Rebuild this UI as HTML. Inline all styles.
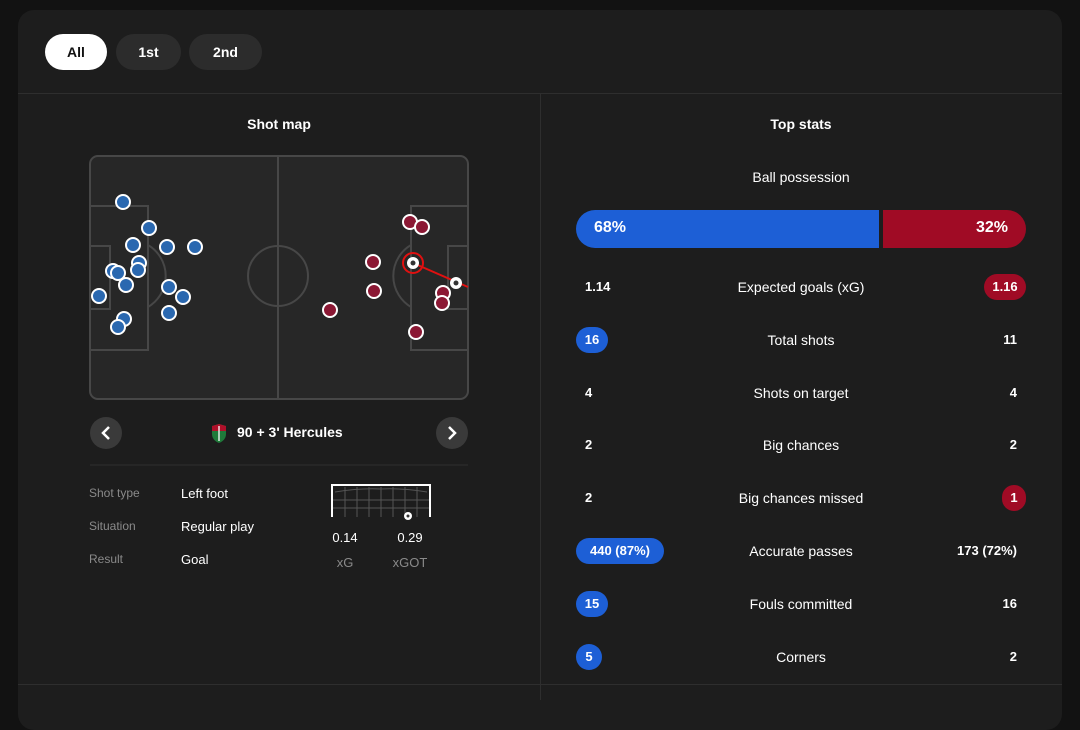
<!DOCTYPE html>
<html><head><meta charset="utf-8"><style>
*{margin:0;padding:0;box-sizing:border-box}
body{width:1080px;height:700px;background:#121212;font-family:"Liberation Sans",sans-serif;color:#fff;position:relative;overflow:hidden}
.card{position:absolute;left:18px;top:10px;width:1044px;height:720px;background:#1d1d1d;border-radius:16px}
.a{position:absolute}
.pill{position:absolute;top:34px;height:36px;border-radius:18px;background:#2c2c2c;color:#fff;font-size:14px;font-weight:bold;text-align:center;line-height:36px}
.t{position:absolute;font-size:14px;white-space:nowrap}
.c{transform:translateX(-50%)}
.r{transform:translateX(-100%)}
.lbl{color:#8a8a8a;font-size:12px}
.v{font-size:13px}
.bb{position:absolute;height:26px;border-radius:13px;line-height:26px;font-size:14px;font-weight:bold;text-align:center}
.blue{background:#1d5fd6}.red{background:#a00b25}
.n{font-weight:bold;font-size:14px}
</style></head><body>
<div class="card"></div>
<div class="pill" style="left:45px;width:62px;background:#fff;color:#111">All</div>
<div class="pill" style="left:116px;width:65px">1st</div>
<div class="pill" style="left:189px;width:73px">2nd</div>
<div class="a" style="left:18px;top:93px;width:1044px;height:1px;background:#2e2e2e"></div>
<div class="a" style="left:540px;top:93px;width:1px;height:607px;background:#2e2e2e"></div>
<div class="a" style="left:18px;top:684px;width:1044px;height:1px;background:#2e2e2e"></div>

<div class="t c n" style="left:279px;top:116px">Shot map</div>
<div class="t c n" style="left:801px;top:116px">Top stats</div>

<svg class="a" style="left:0;top:0" width="540" height="700">
<g fill="none" stroke="#474747" stroke-width="2">
<rect x="90" y="156" width="378" height="243" rx="8" fill="#272727"/>
<line x1="278" y1="156" x2="278" y2="399"/>
<circle cx="278" cy="276" r="30"/>
<path d="M90 206H148V350H90M90 246H110V309H90"/>
<path d="M148 245A36 36 0 0 1 148 307"/>
<path d="M468 206H411V350H468M468 246H448V309H468"/>
<path d="M411 245A36 36 0 0 0 411 307"/>
</g>
<g fill="#2a68b0" stroke="#fff" stroke-width="2">
<circle cx="123" cy="202" r="7"/><circle cx="149" cy="228" r="7"/><circle cx="133" cy="245" r="7"/><circle cx="167" cy="247" r="7"/><circle cx="195" cy="247" r="7"/><circle cx="139" cy="263" r="7"/><circle cx="138" cy="270" r="7"/><circle cx="113" cy="271" r="7"/><circle cx="118" cy="273" r="7"/><circle cx="126" cy="285" r="7"/><circle cx="99" cy="296" r="7"/><circle cx="169" cy="287" r="7"/><circle cx="183" cy="297" r="7"/><circle cx="169" cy="313" r="7"/><circle cx="124" cy="319" r="7"/><circle cx="118" cy="327" r="7"/>
</g>
<g fill="#8b1834" stroke="#fff" stroke-width="2">
<circle cx="410" cy="222" r="7"/><circle cx="422" cy="227" r="7"/><circle cx="373" cy="262" r="7"/><circle cx="374" cy="291" r="7"/><circle cx="330" cy="310" r="7"/><circle cx="443" cy="293" r="7"/><circle cx="442" cy="303" r="7"/><circle cx="416" cy="332" r="7"/>
</g>
<line x1="413" y1="263" x2="468" y2="287" stroke="#e01010" stroke-width="2"/>
<circle cx="413" cy="263" r="10" fill="none" stroke="#e01010" stroke-width="2"/>
<circle cx="413" cy="263" r="6" fill="#fff"/><circle cx="413" cy="263" r="2.5" fill="#333"/>
<circle cx="456" cy="283" r="6" fill="#fff"/><circle cx="456" cy="283" r="2.5" fill="#333"/>
<circle cx="106" cy="433" r="16" fill="#3a3a3a"/>
<path d="M109 427L103 433L109 439" stroke="#fff" stroke-width="2.5" fill="none"/>
<circle cx="452" cy="433" r="16" fill="#3a3a3a"/>
<path d="M449 427L455 433L449 439" stroke="#fff" stroke-width="2.5" fill="none"/>
<path d="M212 426L219 424L226 426V434Q226 440 219 443Q212 440 212 434Z" fill="#1f7a3a"/>
<path d="M212 426L219 424L226 426V431H212Z" fill="#b0102a"/>
<line x1="219" y1="426" x2="219" y2="441" stroke="#fff" stroke-width="1.3"/>
<line x1="90" y1="465" x2="468" y2="465" stroke="#2e2e2e"/>
<g stroke="#555" stroke-width="1" fill="none">
<path d="M335 492Q360 488 381 489Q402 488 427 492M333 500H429M333 508H429"/>
<path d="M345 487V517M357 487V517M369 487V517M381 487V517M393 487V517M405 487V517M417 487V517"/>
</g>
<path d="M332 517V485H430V517" stroke="#fff" stroke-width="2" fill="none"/>
<circle cx="408" cy="516" r="4" fill="#fff"/><circle cx="408" cy="516" r="1.5" fill="#333"/>
</svg>
<div class="t n" style="left:237px;top:424px;font-size:14px">90 + 3' Hercules</div>
<div class="t lbl" style="left:89px;top:486px">Shot type</div>
<div class="t lbl" style="left:89px;top:519px">Situation</div>
<div class="t lbl" style="left:89px;top:552px">Result</div>
<div class="t v" style="left:181px;top:486px">Left foot</div>
<div class="t v" style="left:181px;top:519px">Regular play</div>
<div class="t v" style="left:181px;top:552px">Goal</div>
<div class="t c" style="left:345px;top:530px;font-size:13px">0.14</div>
<div class="t c" style="left:410px;top:530px;font-size:13px">0.29</div>
<div class="t c lbl" style="left:345px;top:555px;font-size:13px">xG</div>
<div class="t c lbl" style="left:410px;top:555px;font-size:13px">xGOT</div>

<div class="t c" style="left:801px;top:169px">Ball possession</div>
<div class="a blue" style="left:576px;top:210px;width:303px;height:38px;border-radius:19px 0 0 19px"></div>
<div class="a red" style="left:883px;top:210px;width:143px;height:38px;border-radius:0 19px 19px 0"></div>
<div class="t n" style="left:594px;top:219px;font-size:16px">68%</div>
<div class="t n r" style="left:1008px;top:219px;font-size:16px">32%</div>

<div class="t n" style="left:585px;top:279px;font-size:13px">1.14</div>
<div class="t c" style="left:801px;top:279px">Expected goals (xG)</div>
<div class="bb red" style="left:984px;top:274px;width:42px;font-size:13px">1.16</div>

<div class="bb blue" style="left:576px;top:327px;width:32px;font-size:13px">16</div>
<div class="t c" style="left:801px;top:332px">Total shots</div>
<div class="t n r" style="left:1017px;top:332px;font-size:13px">11</div>

<div class="t n" style="left:585px;top:385px;font-size:13px">4</div>
<div class="t c" style="left:801px;top:385px">Shots on target</div>
<div class="t n r" style="left:1017px;top:385px;font-size:13px">4</div>

<div class="t n" style="left:585px;top:437px;font-size:13px">2</div>
<div class="t c" style="left:801px;top:437px">Big chances</div>
<div class="t n r" style="left:1017px;top:437px;font-size:13px">2</div>

<div class="t n" style="left:585px;top:490px;font-size:13px">2</div>
<div class="t c" style="left:801px;top:490px">Big chances missed</div>
<div class="bb red" style="left:1002px;top:485px;width:24px;font-size:13px">1</div>

<div class="bb blue" style="left:576px;top:538px;width:88px;font-size:13px">440 (87%)</div>
<div class="t c" style="left:801px;top:543px">Accurate passes</div>
<div class="t n r" style="left:1017px;top:543px;font-size:13px">173 (72%)</div>

<div class="bb blue" style="left:576px;top:591px;width:32px;font-size:13px">15</div>
<div class="t c" style="left:801px;top:596px">Fouls committed</div>
<div class="t n r" style="left:1017px;top:596px;font-size:13px">16</div>

<div class="bb blue" style="left:576px;top:644px;width:26px;font-size:13px">5</div>
<div class="t c" style="left:801px;top:649px">Corners</div>
<div class="t n r" style="left:1017px;top:649px;font-size:13px">2</div>
</body></html>
